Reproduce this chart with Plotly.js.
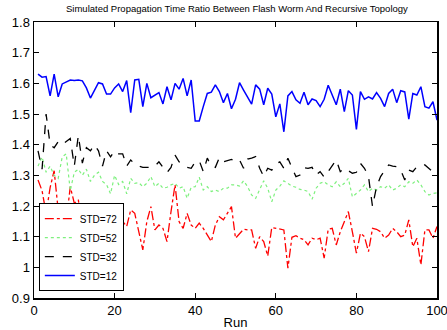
<!DOCTYPE html>
<html>
<head>
<meta charset="utf-8">
<script src="https://cdn.plot.ly/plotly-3.0.1.min.js"></script>
<style>html,body{margin:0;padding:0;background:#fff;}#chart{width:447px;height:330px;}</style>
</head>
<body>
<div id="chart"></div>
<script>
var runs = [];
for (var i = 1; i <= 100; i++) runs.push(i);

var seriesNames = ["STD=72", "STD=52", "STD=32", "STD=12"];

var std72 = [1.285,1.25,1.176,1.26,1.315,1.187,1.19,1.149,1.263,1.209,
1.22,1.133,1.127,1.124,1.182,1.18,1.184,1.138,1.171,1.105,
1.182,1.15,1.133,1.187,1.176,1.116,1.057,1.149,1.198,1.122,
1.138,1.127,1.084,1.182,1.269,1.149,1.127,1.176,1.138,1.127,
1.144,1.127,1.105,1.084,1.138,1.165,1.155,1.176,1.198,1.095,
1.111,1.124,1.122,1.122,1.062,1.100,1.084,1.037,1.130,1.127,
1.124,1.122,0.997,1.098,1.103,1.095,1.09,1.073,1.095,1.09,
1.095,1.030,1.124,1.127,1.073,1.116,1.149,1.182,1.116,1.046,
1.111,1.100,1.051,1.127,1.124,1.116,1.095,1.105,1.127,1.116,
1.100,1.105,1.155,1.067,1.095,1.008,1.122,1.122,1.095,1.133];

var std52 = [1.33,1.36,1.31,1.33,1.30,1.29,1.36,1.37,1.25,1.31,
1.32,1.30,1.32,1.28,1.30,1.31,1.28,1.27,1.24,1.30,
1.27,1.28,1.24,1.29,1.274,1.276,1.263,1.274,1.296,1.263,
1.274,1.258,1.261,1.269,1.274,1.258,1.263,1.225,1.261,1.263,
1.294,1.252,1.263,1.247,1.252,1.247,1.258,1.258,1.269,1.269,
1.265,1.282,1.263,1.236,1.225,1.252,1.282,1.258,1.214,1.252,
1.265,1.282,1.274,1.265,1.261,1.254,1.252,1.247,1.222,1.258,
1.274,1.279,1.269,1.263,1.279,1.263,1.274,1.290,1.230,1.241,
1.252,1.269,1.247,1.258,1.252,1.263,1.258,1.269,1.252,1.258,
1.269,1.263,1.279,1.274,1.285,1.269,1.247,1.236,1.241,1.243];

var std32 = [1.38,1.32,1.50,1.40,1.39,1.41,1.40,1.41,1.42,1.33,
1.43,1.34,1.39,1.38,1.40,1.38,1.33,1.38,1.36,1.38,
1.37,1.37,1.33,1.35,1.337,1.33,1.326,1.326,1.326,1.33,
1.344,1.326,1.309,1.326,1.366,1.344,1.334,1.326,1.323,1.344,
1.348,1.312,1.356,1.330,1.326,1.358,1.344,1.348,1.352,1.344,
1.350,1.323,1.353,1.356,1.361,1.323,1.296,1.323,1.317,1.337,
1.344,1.323,1.356,1.325,1.296,1.301,1.325,1.323,1.326,1.301,
1.312,1.294,1.312,1.334,1.35,1.312,1.323,1.315,1.307,1.31,
1.339,1.323,1.296,1.198,1.263,1.296,1.317,1.334,1.33,1.328,
1.317,1.285,1.317,1.312,1.328,1.334,1.334,1.323,1.31,1.30];

var std12 = [1.630,1.620,1.622,1.559,1.630,1.556,1.598,1.605,1.611,1.609,
1.611,1.608,1.585,1.552,1.578,1.602,1.598,1.565,1.565,1.585,
1.598,1.573,1.609,1.504,1.611,1.613,1.524,1.600,1.553,1.563,
1.570,1.533,1.589,1.546,1.600,1.581,1.616,1.559,1.611,1.477,
1.477,1.524,1.567,1.571,1.595,1.573,1.537,1.567,1.517,1.548,
1.602,1.578,1.554,1.532,1.595,1.581,1.530,1.584,1.565,1.491,
1.533,1.442,1.559,1.573,1.546,1.535,1.571,1.530,1.549,1.544,
1.524,1.548,1.594,1.560,1.530,1.581,1.508,1.576,1.562,1.450,
1.573,1.548,1.556,1.549,1.570,1.551,1.524,1.567,1.581,1.537,
1.576,1.572,1.483,1.567,1.562,1.589,1.524,1.519,1.540,1.480];

var xTicks = [0, 20, 40, 60, 80, 100];
var yTicks = [0.9, 1.0, 1.1, 1.2, 1.3, 1.4, 1.5, 1.6, 1.7, 1.8];
var yTickText = ["0.9", "1", "1.1", "1.2", "1.3", "1.4", "1.5", "1.6", "1.7", "1.8"];

var traces = [
  {x: runs, y: std72, name: seriesNames[0], mode: "lines", line: {color: "#ff0000", width: 1.3, dash: "dashdot"}},
  {x: runs, y: std52, name: seriesNames[1], mode: "lines", line: {color: "#7ef07e", width: 1.2, dash: "dot"}},
  {x: runs, y: std32, name: seriesNames[2], mode: "lines", line: {color: "#000000", width: 1.3, dash: "dash"}},
  {x: runs, y: std12, name: seriesNames[3], mode: "lines", line: {color: "#0000ff", width: 1.5}}
];

var axisCommon = {
  showgrid: false, zeroline: false, showline: true, linecolor: "#000", linewidth: 1.5,
  mirror: "ticks", ticks: "inside", ticklen: 5, tickwidth: 1, tickcolor: "#000",
  ticklabeloverflow: "allow",
  tickfont: {family: "Liberation Sans, Arial, sans-serif", size: 13, color: "#000"}
};

var layout = {
  width: 447, height: 330,
  margin: {l: 34, r: 10, t: 22, b: 32},
  paper_bgcolor: "#fff", plot_bgcolor: "#fff",
  showlegend: true,
  title: {text: "Simulated Propagation Time Ratio Between Flash Worm And Recursive Topology",
          font: {family: "Liberation Sans, Arial, sans-serif", size: 9.5, color: "#000"},
          x: 0.53, xanchor: "center", y: 0.985, yanchor: "top"},
  xaxis: Object.assign({}, axisCommon, {range: [0, 100], tickvals: xTicks, ticktext: xTicks.map(String),
          title: {text: "Run", font: {family: "Liberation Sans, Arial, sans-serif", size: 13, color: "#000"}, standoff: 2}}),
  yaxis: Object.assign({}, axisCommon, {range: [0.9, 1.8], tickvals: yTicks, ticktext: yTickText}),
  legend: {x: 0.012, y: 0.025, xanchor: "left", yanchor: "bottom", bgcolor: "#fff",
           bordercolor: "#000", borderwidth: 1, tracegroupgap: 0,
           font: {family: "Liberation Sans, Arial, sans-serif", size: 10, color: "#000"}}
};

Plotly.newPlot("chart", traces, layout, {displayModeBar: false, staticPlot: true});
</script>
</body>
</html>
